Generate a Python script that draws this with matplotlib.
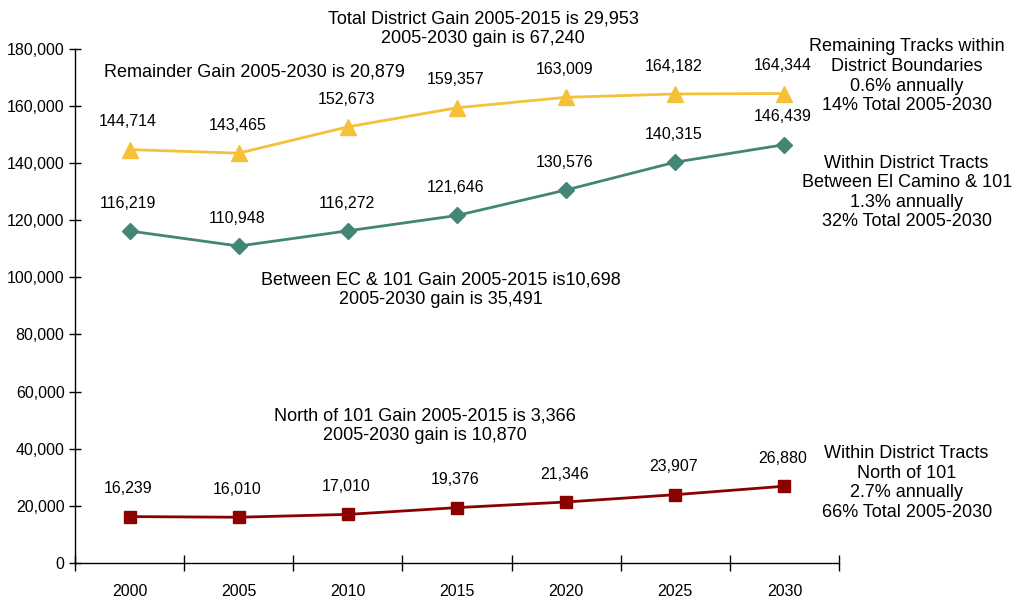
import numpy as np
import matplotlib
matplotlib.use("Agg")
import matplotlib.pyplot as plt
from matplotlib.ticker import FuncFormatter, FixedLocator

plt.rcParams['font.family'] = ['Liberation Sans', 'DejaVu Sans']

years = ['2000', '2005', '2010', '2015', '2020', '2025', '2030']
remaining = [144714, 143465, 152673, 159357, 163009, 164182, 164344]
between_ec_101 = [116219, 110948, 116272, 121646, 130576, 140315, 146439]
north_101 = [16239, 16010, 17010, 19376, 21346, 23907, 26880]

fig = plt.figure(figsize=(10.16, 6), dpi=100)
ax = fig.add_axes([0.0738, 0.0617, 0.752, 0.857])

x = np.arange(len(years))
fs_num = 11.5
fs_note = 13

series = [
    (remaining, '#F4C139', '^', 11),
    (between_ec_101, '#448676', 'D', 8),
    (north_101, '#8B0000', 's', 8.5),
]
for vals, col, mk, ms in series:
    ax.plot(x, vals, color=col, marker=mk, markersize=ms, linewidth=2)
    for xi, v in zip(x, vals):
        ax.annotate(f'{v:,}', (xi, v), xytext=(-1, 20), textcoords='offset points',
                    ha='center', va='center', fontsize=fs_num)

ax.set_xlim(-0.5, 6.5)
ax.set_ylim(0, 180000)
ax.set_yticks(np.arange(0, 180001, 20000))
ax.yaxis.set_major_formatter(FuncFormatter(lambda v, p: f'{int(v):,}'))
ax.set_xticks(x)
ax.set_xticklabels(years)
ax.xaxis.set_minor_locator(FixedLocator(np.arange(-0.5, 7, 1)))
ax.tick_params(axis='x', which='major', length=0, pad=15, labelsize=fs_num)
ax.tick_params(axis='x', which='minor', direction='inout', length=11, width=1)
ax.tick_params(axis='y', direction='inout', length=9, width=1, labelsize=fs_num, pad=3)
for s in ['top', 'right']:
    ax.spines[s].set_visible(False)
for s in ['left', 'bottom']:
    ax.spines[s].set_linewidth(1)

def note(txt, xd, yd):
    ax.text(xd, yd, txt, ha='center', va='center', fontsize=fs_note,
            linespacing=1.2, clip_on=False)

note('Total District Gain 2005-2015 is 29,953\n2005-2030 gain is 67,240', 3.24, 187000)
note('Remainder Gain 2005-2030 is 20,879', 1.145, 171900)
note('Between EC & 101 Gain 2005-2015 is10,698\n2005-2030 gain is 35,491', 2.85, 95800)
note('North of 101 Gain 2005-2015 is 3,366\n2005-2030 gain is 10,870', 2.71, 48100)
note('Remaining Tracks within\nDistrict Boundaries\n0.6% annually\n14% Total 2005-2030', 7.12, 170400)
note('Within District Tracts\nBetween El Camino & 101\n1.3% annually\n32% Total 2005-2030', 7.12, 129700)
note('Within District Tracts\nNorth of 101\n2.7% annually\n66% Total 2005-2030', 7.12, 28000)

fig.savefig('out.png', dpi=100)
